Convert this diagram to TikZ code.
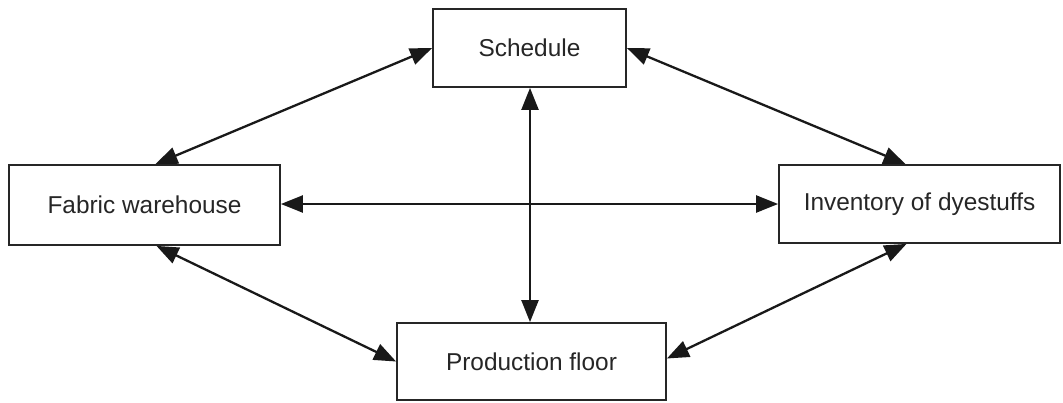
\documentclass[tikz,border=0pt]{standalone}
\usepackage{fontspec}
\setmainfont{Liberation Sans}
\usetikzlibrary{arrows.meta,calc}
\begin{document}
\begin{tikzpicture}[x=1pt,y=-1pt,
  box/.style={draw=black!85,line width=1.8pt,fill=white,inner sep=0pt,
    font=\fontsize{24.4}{29}\selectfont,text=black!85},
  link/.style={line width=2.3pt,draw=black!90,
    {Triangle[length=22pt,width=17pt]}-{Triangle[length=22pt,width=17pt]}}]
\useasboundingbox (0,0) rectangle (1063,402);
\node[box,minimum width=193pt,minimum height=78pt] (sched) at (529.5,48) {Schedule};
\node[box,minimum width=271pt,minimum height=80pt] (fab) at (144.5,205) {Fabric warehouse};
\node[box,minimum width=281pt,minimum height=78pt] (inv) at (919.5,204) {Inventory of dyestuffs};
\node[box,minimum width=269pt,minimum height=77pt] (prod) at (531.5,361.5) {Production floor};
\draw[link] ([xshift=11pt]fab.north) -- (sched.west);
\draw[link] (sched.east) -- ([xshift=-14pt]inv.north);
\draw[link] ([xshift=12pt]fab.south) -- (prod.west);
\draw[link] ([xshift=-13pt]inv.south) -- ([yshift=3pt]prod.east);
\draw[link] ([yshift=1pt]fab.east) -- (inv.west);
\draw[link] ([xshift=0.5pt]sched.south) -- ([xshift=-1.5pt]prod.north);
\end{tikzpicture}
\end{document}
